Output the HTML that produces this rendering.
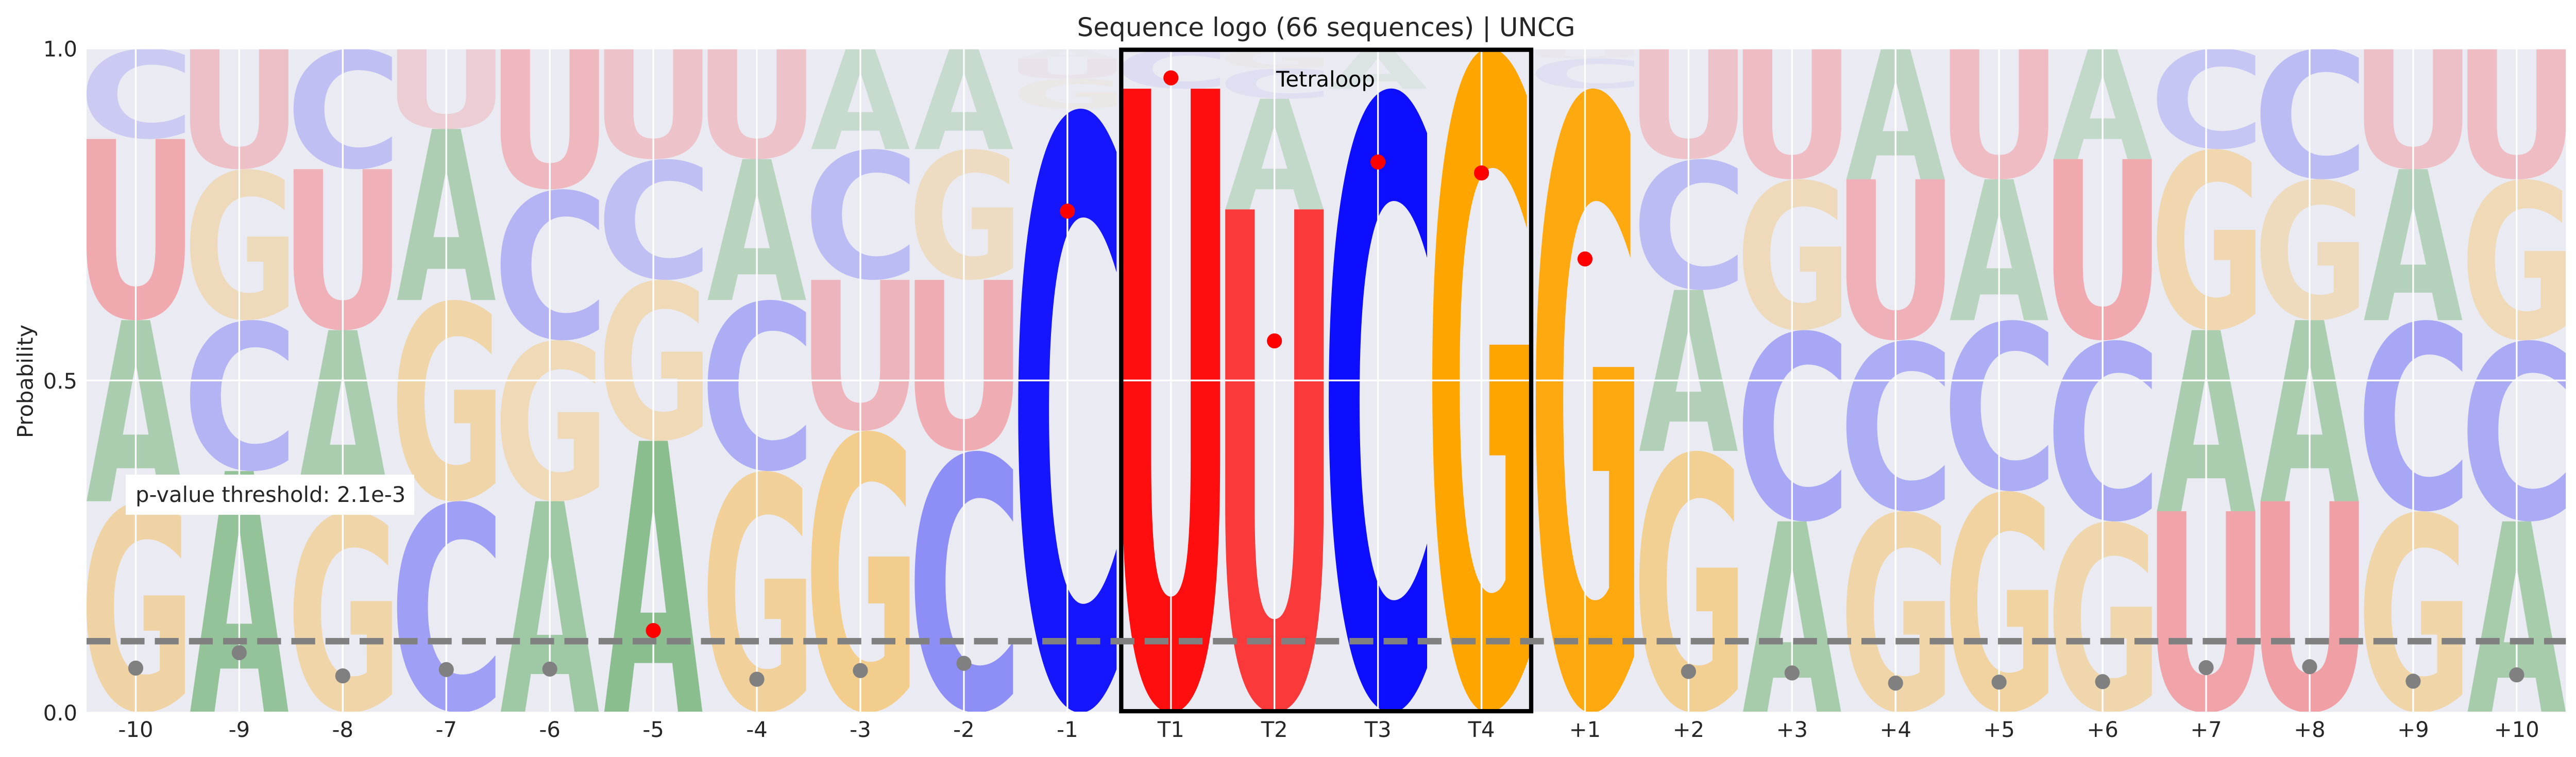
<!DOCTYPE html>
<html lang="en">
<head>
<meta charset="utf-8">
<title>Sequence logo (66 sequences) | UNCG</title>
<style>
html,body{margin:0;padding:0;background:#fff;width:5010px;height:1469px;overflow:hidden}
svg{display:block;font-family:"DejaVu Sans","Liberation Sans",sans-serif}
svg text{text-rendering:geometricPrecision}
</style>
</head>
<body>
<svg id="chart" xmlns="http://www.w3.org/2000/svg" width="5010" height="1469" viewBox="0 0 5010 1469">
  <defs>
    <clipPath id="axes-clip"><rect x="168" y="94" width="4812.3" height="1288.7"/></clipPath>
  </defs>
  <rect x="0" y="0" width="5010" height="1469" fill="#ffffff"/>
  <rect x="168" y="94" width="4812.3" height="1288.7" fill="#eaeaf2"/>
  <g id="letters" clip-path="url(#axes-clip)"></g>
  <g id="grid" clip-path="url(#axes-clip)"></g>
  <g id="annotation-rect"></g>
  <g id="threshold"></g>
  <g id="points"></g>
  <g id="xticks"></g>
  <g id="yticks"></g>
  <text x="2574" y="70" text-anchor="middle" font-size="50" fill="#262626">Sequence logo (66 sequences) | UNCG</text>
  <text transform="translate(63.5,740) rotate(-90)" text-anchor="middle" font-size="41.67" fill="#262626">Probability</text>
  <text x="2573" y="168" text-anchor="middle" font-size="41.67" fill="#000000">Tetraloop</text>
  <rect x="244" y="921" width="560" height="78" fill="#ffffff"/>
  <text x="263" y="974" font-size="41.67" fill="#262626">p-value threshold: 2.1e-3</text>
</svg>
<script>
const positions = ['-10','-9','-8','-7','-6','-5','-4','-3','-2','-1','T1','T2','T3','T4','+1','+2','+3','+4','+5','+6','+7','+8','+9','+10'];
const sequenceCount = 66;
const countsA = [18,24,18,17,21,27,14,10,10,1,0,11,4,0,0,16,19,13,14,11,18,18,15,19];
const countsC = [9,15,12,21,15,12,17,13,26,60,4,3,62,0,3,13,19,17,17,18,10,13,19,18];
const countsG = [21,15,20,20,16,16,24,28,13,3,0,2,0,66,62,26,15,20,22,19,18,14,20,16];
const countsU = [18,12,16,8,14,11,11,15,17,2,62,50,0,0,1,11,13,16,13,18,20,21,12,13];
const tieOrder = ['GAUC','ACGU','GAUC','CGAU','AGCU','AGCU','GCAU','GUCA','CUGA','CGUA','UCAG','UACG','CAGU','GACU','GCUA','GACU','ACGU','GCUA','GCAU','GCUA','UAGC','UAGC','GCAU','ACGU'];
const siteScores = [0.0669,0.0901,0.0552,0.0647,0.0654,0.1235,0.0501,0.0632,0.0741,0.755,0.9557,0.5596,0.829,0.8125,0.683,0.0618,0.0596,0.0443,0.0458,0.0465,0.0676,0.069,0.0472,0.0567];
const threshold = 0.1074;
const yTickValues = [0, 0.5, 1];
const yTickLabels = ['0.0','0.5','1.0'];
const tetraloopSpan = [9.52, 13.48];
const tetraloopHeight = [0.002, 0.998];

const NS = 'http://www.w3.org/2000/svg';
const axes = {left:168, right:4980.3, top:94, bottom:1382.7};
const xMin = -0.475, xMax = positions.length - 1 + 0.475;
const LETTER_HALF = 0.475;
function xAxis(v){ return axes.left + (v - xMin) / (xMax - xMin) * (axes.right - axes.left); }
function yAxis(v){ return axes.bottom - v * (axes.bottom - axes.top); }
const letterColors = {A:'#008000', C:'#0000ff', G:'#ffa500', U:'#ff0000'};
const countsBy = {A:countsA, C:countsC, G:countsG, U:countsU};

/* Exact glyph bounds by scanning rendered pixels (measureText bounds are rounded out at big sizes). */
const glyphBox = {};
(function(){
  const W = 1400, H = 1200, OX = 150, OY = 1000;
  const cv = document.createElement('canvas');
  cv.width = W;
  cv.height = H;
  const ctx = cv.getContext('2d', {willReadFrequently:true});
  ['A','C','G','U'].forEach(function(ch){
    ctx.clearRect(0, 0, W, H);
    ctx.font = 'bold 1000px "DejaVu Sans"';
    ctx.fillStyle = '#000';
    ctx.fillText(ch, OX, OY);
    const px = ctx.getImageData(0, 0, W, H).data;
    let minX = W, maxX = -1, minY = H, maxY = -1;
    for (let y = 0; y < H; y++) {
      for (let x = 0; x < W; x++) {
        if (px[(y * W + x) * 4 + 3] > 127) {
          if (x < minX) minX = x;
          if (x > maxX) maxX = x;
          if (y < minY) minY = y;
          if (y > maxY) maxY = y;
        }
      }
    }
    glyphBox[ch] = {l:OX - minX, r:maxX + 1 - OX, a:OY - minY, d:maxY + 1 - OY};
  });
})();

function make(tag, attrs, parent){
  const el = document.createElementNS(NS, tag);
  Object.keys(attrs).forEach(function(k){ el.setAttribute(k, attrs[k]); });
  parent.appendChild(el);
  return el;
}

const lettersG = document.getElementById('letters');
positions.forEach(function(pos, i){
  const order = tieOrder[i].split('');
  const sorted = order.map(function(ch, k){ return {ch:ch, k:k, v:countsBy[ch][i] / sequenceCount}; })
    .sort(function(a, b){ return (b.v - a.v) || (a.k - b.k); });
  let cum = 0;
  sorted.forEach(function(item){
    if (item.v <= 0) return;
    const box = glyphBox[item.ch];
    const x0 = xAxis(i - LETTER_HALF), x1 = xAxis(i + LETTER_HALF);
    const yb = yAxis(cum), yt = yAxis(cum + item.v);
    const sx = (x1 - x0) / (box.l + box.r);
    const sy = (yb - yt) / (box.a + box.d);
    const t = make('text', {
      transform: 'translate(' + (x0 + box.l * sx) + ',' + (yt + box.a * sy) + ') scale(' + sx + ',' + sy + ')',
      'font-size': 1000, 'font-weight': 'bold', 'font-family': '"DejaVu Sans", sans-serif',
      fill: letterColors[item.ch], 'fill-opacity': item.v
    }, lettersG);
    t.textContent = item.ch;
    
    
    cum += item.v;
  });
});

const gridG = document.getElementById('grid');
positions.forEach(function(pos, i){
  const line = make('line', {x1:xAxis(i), x2:xAxis(i), y1:axes.top, y2:axes.bottom, stroke:'#ffffff', 'stroke-width':3.33}, gridG);
  
  
});
yTickValues.forEach(function(v){
  const line = make('line', {x1:axes.left, x2:axes.right, y1:yAxis(v), y2:yAxis(v), stroke:'#ffffff', 'stroke-width':3.33}, gridG);
  
  
});

const rectG = document.getElementById('annotation-rect');
const tetraBox = make('rect', {
  x: xAxis(tetraloopSpan[0]), y: yAxis(tetraloopHeight[1]),
  width: xAxis(tetraloopSpan[1]) - xAxis(tetraloopSpan[0]),
  height: yAxis(tetraloopHeight[0]) - yAxis(tetraloopHeight[1]),
  fill: 'none', stroke: '#000000', 'stroke-width': 8.33
}, rectG);



const thresholdG = document.getElementById('threshold');
const thresholdLine = make('line', {
  x1: axes.left, x2: axes.right, y1: yAxis(threshold), y2: yAxis(threshold),
  stroke: '#808080', 'stroke-width': 12.5, 'stroke-dasharray': '46.25 20'
}, thresholdG);



const pointsG = document.getElementById('points');
siteScores.forEach(function(score, i){
  const dot = make('circle', {cx:xAxis(i), cy:yAxis(score), r:14.6, fill: score > threshold ? '#ff0000' : '#808080'}, pointsG);
  
  
});

const xticksG = document.getElementById('xticks');
positions.forEach(function(pos, i){
  const t = make('text', {x:xAxis(i), y:1430, 'text-anchor':'middle', 'font-size':41.67, fill:'#262626'}, xticksG);
  t.textContent = pos;
  
  
});

const yticksG = document.getElementById('yticks');
yTickValues.forEach(function(v, i){
  const t = make('text', {x:150, y:yAxis(v) + 15.5, 'text-anchor':'end', 'font-size':41.67, fill:'#262626'}, yticksG);
  t.textContent = yTickLabels[i];
  
  
});
</script>
</body>
</html>
